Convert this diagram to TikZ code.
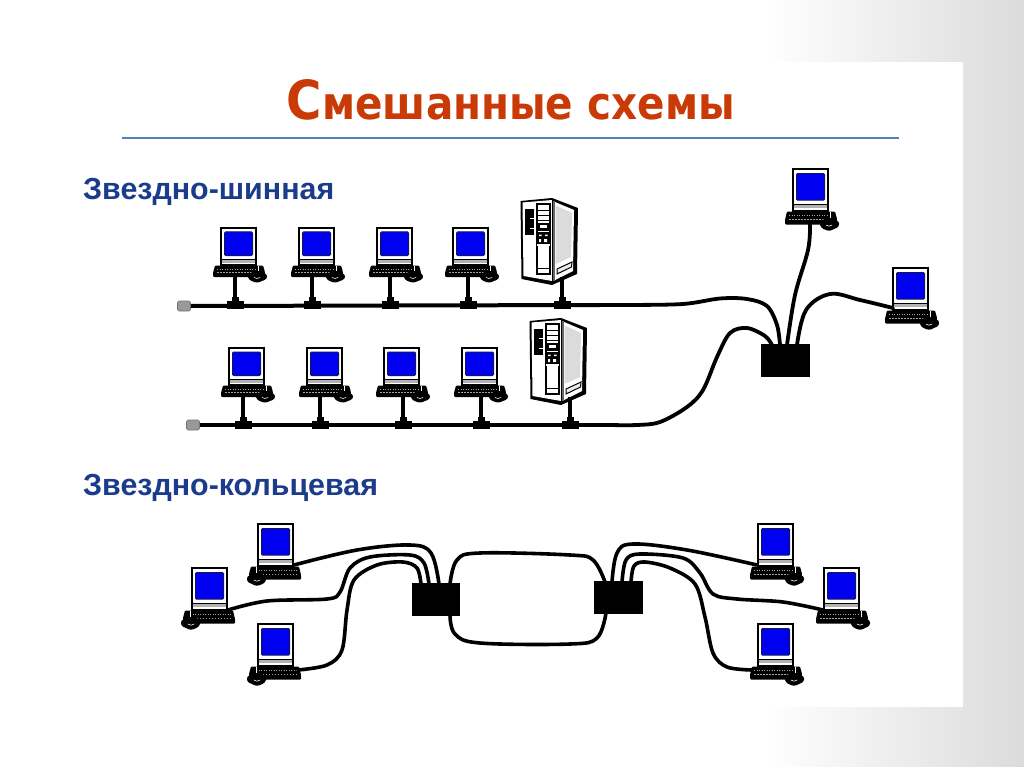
\documentclass[tikz,border=0pt]{standalone}
\usepackage{fontspec}
\usepackage{graphicx}
\setmainfont{Liberation Sans}
\newfontfamily\titlefont{DejaVu Sans}
\definecolor{titlered}{HTML}{C93A06}
\definecolor{headblue}{HTML}{1B3C8C}
\definecolor{rulecol}{HTML}{4F81BD}
\definecolor{scrblue}{HTML}{0000F0}
\definecolor{scredge}{HTML}{15155A}
\tikzset{
  cable/.style={draw=black,line width=3.6pt,line cap=round,line join=round},
  hubcable/.style={draw=black,line width=3.8pt,line cap=round,line join=round},
  busline/.style={draw=black,line width=4pt},
  stemline/.style={draw=black,line width=4pt},
  tee/.style={fill=black,inner sep=0pt,minimum width=17pt,minimum height=7.5pt},
  hubbox/.style={fill=black,inner sep=0pt,minimum width=48.5pt,minimum height=33pt},
  term/.style={fill=black!40,draw=black!55,line width=.6pt,rounded corners=1.5pt,inner sep=0pt,minimum width=13pt,minimum height=10pt},
  heading/.style={text=headblue,font=\bfseries\fontsize{30.4}{30.4}\selectfont,anchor=base west,inner sep=0pt},
  pics/pc/.style={code={
    % monitor
    \draw[black,line width=1.8pt,fill=white] (0.9,0.9) rectangle (36.1,38);
    \draw[scredge,line width=1pt,fill=scrblue,rounded corners=1pt] (4.5,5) rectangle (32.5,28.5);
    \fill[black!30] (1.6,33) rectangle (35.4,35.5);
    \draw[black,line width=.8pt] (1.6,32.4) -- (35.4,32.4);
    % keyboard
    \fill[black,rounded corners=1pt] (-5,38.5) -- (43,38.5) -- (45,45) -- (44,50) -- (-7,50) -- (-7,46) -- cycle;
    \draw[black!35,line width=.5pt,dash pattern=on 1pt off 1.5pt] (-3,42) -- (36,42);
    \draw[black!35,line width=.5pt,dash pattern=on 1.5pt off 1.5pt] (-3,45) -- (36,45);
    \fill[white] (37.5,39) rectangle (38.5,44);
    % mouse
    \fill[black,rounded corners=2.5pt] (27,47) -- (36,44) -- (47,47) -- (47,52) -- (37,56) -- (29,53) -- cycle;
    \draw[white,line width=.6pt,line cap=round] (34,50.5) -- (37,51.5) -- (40,50.5);
    \coordinate (-base) at (15,49);
  }},
  pics/server/.style={code={
    % body
    \fill[black] (-.5,0) -- (31,-3) -- (57,7) -- (56,73) -- (31,84) -- (.5,78) -- cycle;
    \fill[white] (1.5,1.5) -- (31,-1) -- (31,80) -- (2.5,75) -- cycle;
    \fill[white] (34,1) -- (53,9) -- (52,70) -- (34,79) -- cycle;
    \fill[black!14] (34.5,4.5) -- (51,12) -- (50,56) -- (34.5,63) -- cycle;
    \draw[black,line width=1pt,fill=black!8] (36,68) -- (51,61) -- (50.5,66) -- (36,73) -- cycle;
    \draw[black,line width=1.8pt] (31.5,-2) -- (31.5,81);
    \draw[black!60,line width=1.2pt] (33,0) -- (33,80);
    % left panel
    \fill[black] (4,8) rectangle (13,34);
    \draw[white,line width=.6pt] (9,17) -- (13,17) (9,27) -- (13,27);
    % column
    \draw[black,line width=1.2pt,fill=white] (16,3) rectangle (29,73);
    \draw[black,line width=.9pt] (16,9) -- (29,9) (16,14) -- (29,14) (16,19) -- (29,19);
    \fill[black] (16,22) rectangle (29,30);
    \fill[white] (19,24) rectangle (26,27);
    \fill[black] (16,31) rectangle (29,45);
    \fill[white] (18,33.5) rectangle (20.5,35) (24,33.5) rectangle (26.5,35)
                 (18,38) rectangle (20,41) (23,38) rectangle (26,41);
    \fill[white] (16,43) rectangle (29,44.5);
    \draw[black,line width=.9pt] (16,67) -- (29,67);
    \coordinate (-base) at (41,76);
  }}
}
\begin{document}
\begin{tikzpicture}[x=1pt,y=-1pt]
\useasboundingbox (0,0) rectangle (1024,767);
% background
\fill[white] (0,0) rectangle (1024,767);
\shade[left color=white,middle color=black!8,right color=black!14] (764,0) rectangle (1024,767);
\fill[white] (0,62) rectangle (963,707);
% texts
\node[inner sep=0pt,text=titlered] (title) at (511,100) {\resizebox{448pt}{40pt}{\titlefont\bfseries{\fontsize{50}{50}\selectfont С}{\fontsize{42}{42}\selectfont мешанные схемы}}};
\coordinate (ruleL) at (122,138);
\coordinate (ruleR) at (899,138);
\draw[rulecol,line width=1.6pt] (ruleL) -- (ruleR);
\node[heading] (h1) at (83,200) {Звездно-шинная};
\node[heading] (h2) at (83,495) {Звездно-кольцевая};

% ---- star-bus: computers
\pic (p1) at (220,227) {pc};
\pic (p2) at (298,227) {pc};
\pic (p3) at (376,227) {pc};
\pic (p4) at (452,227) {pc};
\pic (s1) at (521,201) {server};
\pic (q1) at (228,347) {pc};
\pic (q2) at (306,347) {pc};
\pic (q3) at (383,347) {pc};
\pic (q4) at (461,347) {pc};
\pic (s2) at (530,321) {server};
\pic[yscale=1.13] (u1) at (792,168) {pc};
\pic[yscale=1.13] (u2) at (892,267) {pc};
% tees and terminators
\node[term] (tm1) at (184,306) {};
\node[term] (tm2) at (193,425) {};
\node[tee] (t1) at (235,305) {};
\node[tee] (t2) at (312,305) {};
\node[tee] (t3) at (390,305) {};
\node[tee] (t4) at (468,305) {};
\node[tee] (t5) at (562,305) {};
\node[tee] (r1) at (243,425) {};
\node[tee] (r2) at (320,425) {};
\node[tee] (r3) at (403,425) {};
\node[tee] (r4) at (481,425) {};
\node[tee] (r5) at (570,425) {};
\foreach \a/\b in {t1/p1,t2/p2,t3/p3,t4/p4,r1/q1,r2/q2,r3/q3,r4/q4,t5/s1,r5/s2}{
  \draw[stemline] (\a.center) -- (\a |- \b-base);
  \fill ([shift={(-3.5,-8)}]\a.center) rectangle ([shift={(3.5,0)}]\a.center);
}
% hub
\node[hubbox] (hub) at (785.5,360.5) {};
\coordinate (hA) at (772,345);
\coordinate (hB) at (780,345);
\coordinate (hC) at (787,345);
\coordinate (hD) at (797,345);
\coordinate (busEnd1) at (600,305);
\coordinate (busEnd2) at (610,425);
\coordinate (u1port) at (810,224);
\coordinate (u2port) at (893,308);
\draw[busline] (tm1.east) -- (busEnd1);
\draw[busline] (tm2.east) -- (busEnd2);
\draw[hubcable] plot[smooth,tension=.55] coordinates {(busEnd1) (627,305) (683,304) (720,298.5) (747,299) (767,306) (777,325) (hB)};
\draw[hubcable] plot[smooth,tension=.55] coordinates {(busEnd2) (637,425) (660,422) (687,407) (703,390) (717,357) (730,333) (747,328) (765,336) (hA)};
\draw[hubcable] plot[smooth,tension=.6] coordinates {(u1port) (808,250) (795,295) (hC)};
\draw[hubcable] plot[smooth,tension=.6] coordinates {(u2port) (860,300) (830,294) (806,310) (hD)};

% ---- star-ring: left
\pic[xscale=-1,yscale=1.13] (a) at (294,523) {pc};
\pic[xscale=-1,yscale=1.13] (b) at (228,567) {pc};
\pic[xscale=-1,yscale=1.13] (c) at (294,623) {pc};
\node[hubbox] (hl) at (436,599.5) {};
\coordinate (aP) at (294,565);
\coordinate (bP) at (228,610);
\coordinate (cP) at (298,670);
\coordinate (l1) at (421,584);
\coordinate (l2) at (429,584);
\coordinate (l3) at (439,584);
\coordinate (l4) at (450,584);
\coordinate (l5) at (450,615);
\draw[cable] plot[smooth,tension=.6] coordinates {(aP) (357,550) (410,545) (431,553) (l3)};
\draw[cable] plot[smooth,tension=.55] coordinates {(bP) (267,601) (327,599) (340,592) (350,568) (370,557) (410,555) (424,563) (l2)};
\draw[cable] plot[smooth,tension=.55] coordinates {(cP) (327,665) (342,650) (347,610) (354,580) (377,565) (403,562) (417,568) (l1)};

% ---- star-ring: right
\pic[yscale=1.13] (d) at (757,523) {pc};
\pic[yscale=1.13] (e) at (823,567) {pc};
\pic[yscale=1.13] (f) at (757,623) {pc};
\node[hubbox] (hr) at (618.5,597.5) {};
\coordinate (dP) at (757,565);
\coordinate (eP) at (823,610);
\coordinate (fP) at (752,670);
\coordinate (x1) at (612,582);
\coordinate (x2) at (622,582);
\coordinate (x3) at (631,582);
\coordinate (x4) at (605,582);
\coordinate (x5) at (606,613);
\draw[cable] plot[smooth,tension=.6] coordinates {(x1) (617,553) (633,544) (687,550) (dP)};
\draw[cable] plot[smooth,tension=.55] coordinates {(x2) (626,560) (640,554) (683,558) (700,573) (713,594) (737,599) (783,602) (eP)};
\draw[cable] plot[smooth,tension=.55] coordinates {(x3) (634,566) (645,562) (670,568) (695,584) (705,617) (713,653) (727,667) (fP)};
% ring
\draw[cable] plot[smooth,tension=.6] coordinates {(l4) (457,560) (480,553) (570,555) (593,560) (x4)};
\draw[cable] plot[smooth,tension=.6] coordinates {(l5) (455,634) (480,643) (570,644) (597,638) (x5)};
\end{tikzpicture}
\end{document}
